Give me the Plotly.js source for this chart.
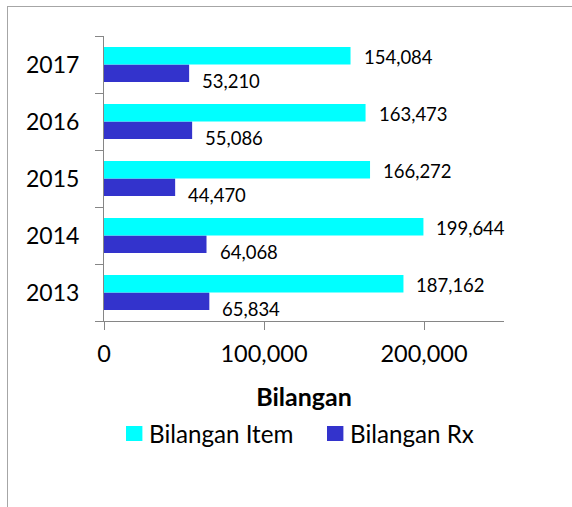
<!DOCTYPE html>
<html>
<head>
<meta charset="utf-8">
<script src="https://cdn.plot.ly/plotly-3.0.1.min.js"></script>
<style>
  html, body { margin: 0; padding: 0; background: #fff; }
  #wrap { position: relative; width: 572px; height: 507px; overflow: hidden; }
  #chart { position: absolute; left: 0; top: 0; width: 572px; height: 507px; }
  #frame { position: absolute; left: 7px; top: 6px; width: 600px; height: 600px;
           border-left: 1.5px solid #a6a6a6; border-top: 1.5px solid #a6a6a6; pointer-events: none; }
</style>
</head>
<body>
<div id="wrap"><div id="chart"></div><div id="frame"></div></div>
<script>
const years = ['2013', '2014', '2015', '2016', '2017'];
const bilanganItem = [187162, 199644, 166272, 163473, 154084];
const bilanganRx = [65834, 64068, 44470, 55086, 53210];
const xTickVals = [0, 100000, 200000];
const seriesNames = ['Bilangan Item', 'Bilangan Rx'];
const seriesColors = ['#00ffff', '#3333cc'];

const FONT = 'Lato, "Open Sans", sans-serif';
const fmt = v => v.toLocaleString('en-US');

const traces = [
  { type: 'bar', orientation: 'h', name: seriesNames[1], y: years, x: bilanganRx,
    marker: { color: seriesColors[1] }, hoverinfo: 'none' },
  { type: 'bar', orientation: 'h', name: seriesNames[0], y: years, x: bilanganItem,
    marker: { color: seriesColors[0] }, hoverinfo: 'none' }
];

const annotations = [];
years.forEach((yr, i) => {
  annotations.push({ x: bilanganItem[i], y: i, xref: 'x', yref: 'y', text: fmt(bilanganItem[i]),
    showarrow: false, xanchor: 'left', yanchor: 'middle', xshift: 11, yshift: 8,
    font: { family: FONT, size: 18.5, color: '#000' } });
  annotations.push({ x: bilanganRx[i], y: i, xref: 'x', yref: 'y', text: fmt(bilanganRx[i]),
    showarrow: false, xanchor: 'left', yanchor: 'middle', xshift: 11, yshift: -16,
    font: { family: FONT, size: 18.5, color: '#000' } });
});

// custom legend (paper coords: plot area x 104..504 px, y 36..321 px)
const legendSwatchX = [0.055, 0.5575];
const shapes = [];
seriesNames.forEach((nm, k) => {
  shapes.push({ type: 'rect', xref: 'paper', yref: 'paper',
    x0: legendSwatchX[k], x1: legendSwatchX[k] + 0.041, y0: -0.4211, y1: -0.3684,
    fillcolor: seriesColors[k], line: { width: 0 } });
  annotations.push({ xref: 'paper', yref: 'paper', x: legendSwatchX[k] + 0.0535, y: -0.393,
    text: nm, showarrow: false, xanchor: 'left', yanchor: 'middle',
    font: { family: FONT, size: 24.2, color: '#000' } });
});

const layout = {
  width: 572, height: 507,
  margin: { l: 104, r: 68, t: 36, b: 186, pad: 0 },
  paper_bgcolor: '#fff', plot_bgcolor: '#fff',
  font: { family: FONT, color: '#000' },
  barmode: 'group', bargap: 0.386, bargroupgap: 0,
  showlegend: false,
  xaxis: {
    range: [0, 250000], tickvals: xTickVals, tickformat: ',',
    ticks: 'outside', ticklen: 8, tickcolor: '#868686', tickwidth: 1,
    showline: true, linecolor: '#868686', linewidth: 1,
    showgrid: false, zeroline: false, fixedrange: true,
    ticklabelstandoff: 4,
    tickfont: { family: FONT, size: 23.5, color: '#000' },
    title: { text: '<b>Bilangan</b>', font: { family: FONT, size: 25, color: '#000' }, standoff: 22 }
  },
  yaxis: {
    type: 'category', range: [-0.5, years.length - 0.5], tickson: 'boundaries',
    ticks: 'outside', ticklen: 8, tickcolor: '#868686', tickwidth: 1,
    showline: true, linecolor: '#868686', linewidth: 1,
    showgrid: false, zeroline: false, fixedrange: true,
    ticklabelstandoff: 19,
    tickfont: { family: FONT, size: 23, color: '#000' }
  },
  shapes: shapes,
  annotations: annotations
};

Plotly.newPlot('chart', traces, layout, { staticPlot: true, displayModeBar: false });
</script>
</body>
</html>
